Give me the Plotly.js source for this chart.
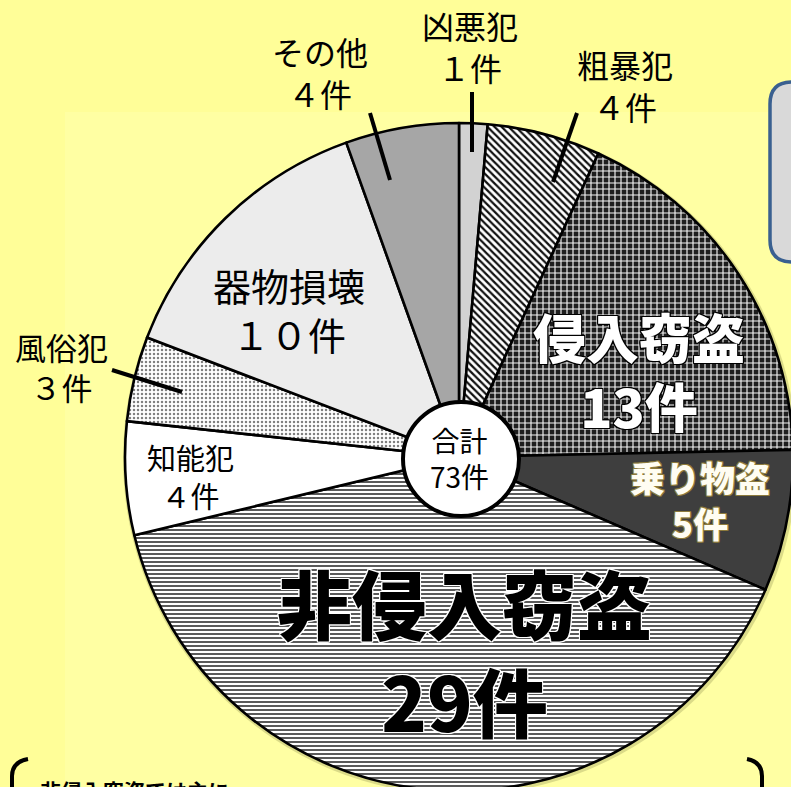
<!DOCTYPE html>
<html>
<head>
<meta charset="utf-8">
<script src="https://cdn.plot.ly/plotly-3.0.1.min.js"></script>
<style>
html,body{margin:0;padding:0;overflow:hidden;background:#FFFE98;width:791px;height:787px;}
#chart{width:830px;height:830px;}
</style>
</head>
<body>
<div id="chart"></div>
<script>
// ---- data ----
const categories = ['凶悪犯','粗暴犯','侵入窃盗','乗り物盗','非侵入窃盗','知能犯','風俗犯','器物損壊','その他'];
const counts = [1, 4, 13, 5, 29, 4, 3, 10, 4];
const countLabels = ['１件','４件','13件','5件','29件','４件','３件','１０件','４件'];
const totalLabels = ['合計', '73件'];
const noteText = '非侵入窃盗では主に';

// ---- layout helpers (pixel -> paper) ----
const L = 125, T = 123, S = 668;
const px = x => (x - L) / S;
const py = y => 1 - (y - T) / S;

const FONT = '"Noto Sans CJK JP", "Noto Sans", sans-serif';
const outline = c => `-1px -1px 0 ${c}, 1px -1px 0 ${c}, -1px 1px 0 ${c}, 1px 1px 0 ${c}, 0 -1px 0 ${c}, 0 1px 0 ${c}, -1px 0 0 ${c}, 1px 0 0 ${c}`;

// label centre (midpoint of the two lines) and font
const labelStyle = [
  {pos: [470, 46], font: {size: 32, color: '#000', weight: 400}},
  {pos: [625, 85], font: {size: 32, color: '#000', weight: 400}},
  {pos: [639, 370], font: {size: 53, color: '#ffffff', weight: 900, shadow: outline('#000')}},
  {pos: [700, 499], font: {size: 35, color: '#fffdf2', weight: 900, shadow: outline('#8c7a3c')}},
  {pos: [464, 650], font: {size: 75, color: '#000', weight: 900, shadow: outline('#ffffff')}},
  {pos: [190, 476], font: {size: 29, color: '#000', weight: 400}},
  {pos: [61, 366], font: {size: 31, color: '#000', weight: 400}},
  {pos: [289, 309], font: {size: 38, color: '#000', weight: 400}},
  {pos: [320, 72], font: {size: 32, color: '#000', weight: 400}}
];

const sliceColors = ['#d2d2d2','#ffffff','#1e1e1e','#3e3e3e','#ffffff','#ffffff','#ffffff','#ececec','#a6a6a6'];
const patterns = {
  shape: ['', '\\', '+', '', '-', '', '.', '', ''],
  fgcolor: ['#000', '#111', '#f4f4f4', '#000', '#3a3a3a', '#000', '#808080', '#000', '#000'],
  bgcolor: ['#d2d2d2', '#ffffff', '#1e1e1e', '#3e3e3e', '#ffffff', '#ffffff', '#ffffff', '#ececec', '#a6a6a6'],
  size: [6, 5, 6, 6, 4, 6, 4, 6, 6],
  solidity: [0.3, 0.45, 0.34, 0.3, 0.42, 0.3, 0.3, 0.3, 0.3]
};

const trace = {
  type: 'pie',
  labels: categories,
  values: counts,
  sort: false,
  direction: 'clockwise',
  rotation: 0,
  textinfo: 'none',
  hoverinfo: 'label+value',
  showlegend: false,
  marker: {
    colors: sliceColors,
    line: {color: '#000', width: 2.6},
    pattern: patterns
  },
  domain: {x: [0, 1], y: [0, 1]}
};

const annotations = [];
categories.forEach((c, i) => {
  const st = labelStyle[i];
  annotations.push({xref: 'paper', yref: 'paper', x: px(st.pos[0]), y: py(st.pos[1]),
    text: c + '<br>' + countLabels[i],
    showarrow: false, xanchor: 'center', yanchor: 'middle', align: 'center',
    font: Object.assign({family: FONT}, st.font)});
});
annotations.push({xref: 'paper', yref: 'paper', x: px(459), y: py(458), text: totalLabels.join('<br>'), showarrow: false,
  xanchor: 'center', yanchor: 'middle', align: 'center', font: {family: FONT, size: 28, color: '#000'}});
annotations.push({xref: 'paper', yref: 'paper', x: px(38), y: py(773), text: noteText, showarrow: false,
  xanchor: 'left', yanchor: 'top', font: {family: FONT, size: 21, color: '#000', weight: 700}});

const line = (x0, y0, x1, y1) => ({type: 'line', xref: 'paper', yref: 'paper', layer: 'above',
  x0: px(x0), y0: py(y0), x1: px(x1), y1: py(y1), line: {color: '#000', width: 4}});

// rounded box path on right
const bx0 = 770, by0 = 82, bx1 = 840, by1 = 262, rr = 22;
const boxPath = `M ${px(bx0+rr)} ${py(by0)} L ${px(bx1)} ${py(by0)} L ${px(bx1)} ${py(by1)} L ${px(bx0+rr)} ${py(by1)} ` +
  `Q ${px(bx0)} ${py(by1)} ${px(bx0)} ${py(by1-rr)} L ${px(bx0)} ${py(by0+rr)} Q ${px(bx0)} ${py(by0)} ${px(bx0+rr)} ${py(by0)} Z`;

const lb = `M ${px(28)} ${py(759)} Q ${px(12)} ${py(762)} ${px(12)} ${py(776)} L ${px(12)} ${py(800)}`;
const rb = `M ${px(747)} ${py(759)} Q ${px(762)} ${py(762)} ${px(762)} ${py(776)} L ${px(762)} ${py(800)}`;

const shapes = [
  {type: 'rect', xref: 'paper', yref: 'paper', layer: 'below', x0: px(65), y0: py(112), x1: px(830), y1: py(830),
    fillcolor: '#FFFFA3', line: {width: 0}},
  {type: 'path', xref: 'paper', yref: 'paper', layer: 'below', path: boxPath, fillcolor: '#d9d9d9',
    line: {color: '#3a6090', width: 3.5}},
  {type: 'circle', xref: 'paper', yref: 'paper', layer: 'below', x0: px(459-336), y0: py(457-335), x1: px(459+338), y1: py(457+338),
    fillcolor: 'rgba(90,90,40,0.22)', line: {width: 0}},
  {type: 'path', xref: 'paper', yref: 'paper', layer: 'above', path: lb, line: {color: '#000', width: 4}},
  {type: 'path', xref: 'paper', yref: 'paper', layer: 'above', path: rb, line: {color: '#000', width: 4}},
  line(472, 92, 472, 152),
  line(370, 113, 390, 180),
  line(577, 113, 553, 182),
  line(112, 370, 182, 392),
  {type: 'circle', xref: 'paper', yref: 'paper', layer: 'above', x0: px(403), y0: py(402), x1: px(519), y1: py(516),
    fillcolor: '#ffffff', line: {color: '#000', width: 4}}
];

const layout = {
  width: 830, height: 830,
  margin: {l: L, r: 830 - L - S, t: T, b: 830 - T - S, pad: 0},
  paper_bgcolor: '#FFFE98',
  plot_bgcolor: 'rgba(0,0,0,0)',
  showlegend: false,
  annotations: annotations,
  shapes: shapes,
  font: {family: FONT}
};

Plotly.newPlot('chart', [trace], layout, {displayModeBar: false, staticPlot: true});
</script>
</body>
</html>
